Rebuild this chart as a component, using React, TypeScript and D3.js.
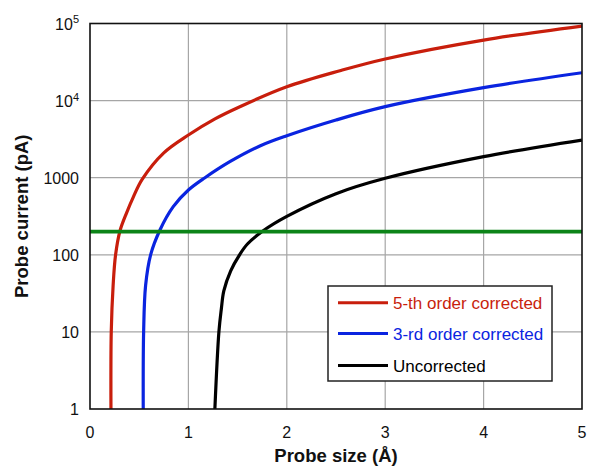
import React from 'react';
import * as d3 from 'd3';

// probe size (Å) vs probe current (pA)
const fifthX = [0.213, 0.216, 0.235, 0.26, 0.305, 0.372, 0.44, 0.53, 0.75, 1.0, 1.27, 1.523, 2.0, 2.54, 3.0, 4.0, 5.0];
const fifthY = [1, 10, 40, 100, 205, 350, 560, 950, 2100, 3580, 5800, 8340, 15100, 24400, 34700, 61000, 92700];

const thirdX = [0.541, 0.545, 0.565, 0.616, 0.711, 0.846, 1.0, 1.168, 1.421, 1.726, 2.0, 2.5, 3.0, 4.0, 5.0];
const thirdY = [1, 10, 40, 100, 210, 421, 692, 1000, 1614, 2580, 3500, 5600, 8340, 14700, 23000];

const uncX = [1.269, 1.31, 1.335, 1.36, 1.43, 1.52, 1.6, 1.76, 2.0, 2.5, 3.0, 4.0, 5.0];
const uncY = [1, 10, 20, 34, 62, 100, 138, 205, 315, 620, 982, 1875, 3080];

const targetCurrent = 200;

const xTicks = [0, 1, 2, 3, 4, 5];
const yTicks = [1, 10, 100, 1000, 10000, 100000];

const series = [
  { name: '5-th order corrected', xs: fifthX, ys: fifthY, color: '#c81e0c' },
  { name: '3-rd order corrected', xs: thirdX, ys: thirdY, color: '#0a24e0' },
  { name: 'Uncorrected', xs: uncX, ys: uncY, color: '#000000' },
];

const FONT = '"Liberation Sans", Arial, Helvetica, sans-serif';

const yLabel = (v: number) => {
  if (v >= 10000) {
    return (
      <>
        10
        <tspan dy="-0.55em" fontSize="11">{Math.round(Math.log10(v))}</tspan>
      </>
    );
  }
  return String(v);
};

export default function App() {
  const width = 589;
  const height = 467;
  const left = 90, right = 582, top = 23.5, bottom = 409;

  const x = d3.scaleLinear().domain([0, 5]).range([left, right]);
  const y = d3.scaleLog().domain([1, 100000]).range([bottom, top]);

  const line = d3
    .line<[number, number]>()
    .x((d) => x(d[0]))
    .y((d) => y(d[1]))
    .curve(d3.curveCatmullRom.alpha(0.5));

  // legend placement
  const lg = { x: 328, y: 286, w: 224, h: 95 };
  const rowY = [302.7, 333.5, 365.5];

  return (
    <svg
      width={width}
      height={height}
      style={{ position: 'absolute', left: 0, top: 0, background: '#fff' }}
      fontFamily={FONT}
    >
      <defs>
        <clipPath id="plot">
          <rect x={left} y={top} width={right - left} height={bottom - top} />
        </clipPath>
      </defs>

      {/* grid */}
      <g stroke="#a6a6a6" strokeWidth={1.2}>
        {xTicks.slice(1, -1).map((t) => (
          <line key={'gx' + t} x1={x(t)} x2={x(t)} y1={top} y2={bottom} />
        ))}
        {yTicks.slice(1, -1).map((t) => (
          <line key={'gy' + t} x1={left} x2={right} y1={y(t)} y2={y(t)} />
        ))}
      </g>

      {/* curves */}
      <g clipPath="url(#plot)" fill="none" strokeWidth={3.2}>
        {series.map((s) => (
          <path
            key={s.name}
            d={line(s.xs.map((v, i) => [v, s.ys[i]] as [number, number])) || ''}
            stroke={s.color}
          />
        ))}
        <line
          x1={left}
          x2={right}
          y1={y(targetCurrent)}
          y2={y(targetCurrent)}
          stroke="#0c8418"
          strokeWidth={3.8}
        />
      </g>

      {/* frame */}
      <rect x={left} y={top} width={right - left} height={bottom - top} fill="none" stroke="#111" strokeWidth={1.6} />

      {/* tick labels */}
      <g fontSize={16} fill="#111">
        {xTicks.map((t) => (
          <text key={'tx' + t} x={x(t)} y={438} textAnchor="middle">
            {t}
          </text>
        ))}
        {yTicks.map((t) => (
          <text key={'ty' + t} x={79} y={y(t) + 6} textAnchor="end">
            {yLabel(t)}
          </text>
        ))}
      </g>

      {/* axis titles */}
      <text x={(left + right) / 2} y={462} textAnchor="middle" fontSize={18.5} fontWeight="bold" fill="#111">
        Probe size (Å)
      </text>
      <text
        transform={`translate(28, ${(top + bottom) / 2}) rotate(-90)`}
        textAnchor="middle"
        fontSize={18.5}
        fontWeight="bold"
        fill="#111"
      >
        Probe current (pA)
      </text>

      {/* legend */}
      <rect x={lg.x} y={lg.y} width={lg.w} height={lg.h} fill="#fff" stroke="#222" strokeWidth={1.5} />
      {series.map((s, i) => (
        <g key={'lg' + s.name}>
          <line x1={338} x2={388} y1={rowY[i]} y2={rowY[i]} stroke={s.color} strokeWidth={3} />
          <text x={393} y={rowY[i]} dy="0.36em" fontSize={17} fill={s.color}>
            {s.name}
          </text>
        </g>
      ))}
    </svg>
  );
}
